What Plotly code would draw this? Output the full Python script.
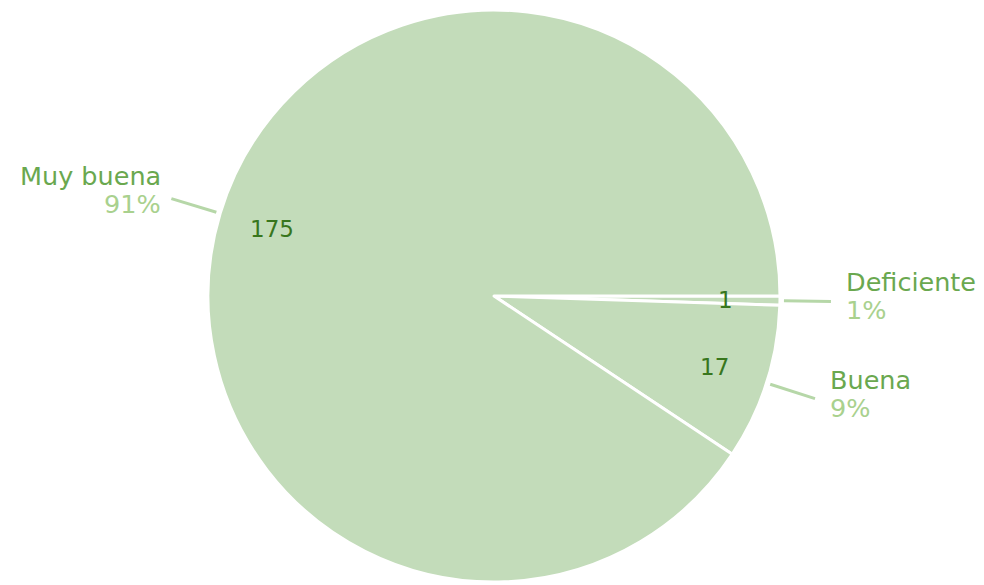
import math
import plotly.graph_objects as go

# ---- data ----
labels = ["Deficiente", "Buena", "Muy buena"]
values = [1, 17, 175]

# ---- styling ----
OFF = 8                      # default page body margin
W, H = 984 - OFF, 585 - OFF
CX, CY, R = 494 - OFF, 296 - OFF, 286
M_T = CY - R
M_B = H - (CY + R)
FILL = "#c3dcba"
LABEL_C = "#6aa84f"
PCT_C = "#a9d18e"
VAL_C = "#38761d"
LINE_C = "#b6d7a8"
FONT = "DejaVu Sans"

total = sum(values)
plot_h = H - M_T - M_B


def to_paper(px, py):
    return px / W, (H - M_B - py) / plot_h


def polar(angle_deg, rad):
    a = math.radians(angle_deg)
    return CX + rad * math.cos(a), CY + rad * math.sin(a)


fig = go.Figure(go.Pie(
    labels=labels,
    values=values,
    sort=False,
    direction="clockwise",
    rotation=90,
    textinfo="none",
    hoverinfo="label+value+percent",
    marker=dict(colors=[FILL] * len(values), line=dict(color="white", width=3)),
    domain=dict(x=[(CX - R) / W, (CX + R) / W], y=[0, 1]),
    showlegend=False,
))

annotations = []
shapes = []
cum = 0.0
for lab, v in zip(labels, values):
    start = cum / total * 360
    cum += v
    end = cum / total * 360
    mid = (start + end) / 2  # clockwise from 3 o'clock, screen coords (y down)

    # value inside slice
    vx, vy = polar(mid, 0.81 * R)
    px, py = to_paper(vx, vy)
    annotations.append(dict(x=px, y=py, xref="paper", yref="paper", text=str(v),
                            xanchor="center", yanchor="middle",
                            showarrow=False, font=dict(family=FONT, size=23, color=VAL_C)))

    # leader line
    sx, sy = polar(mid, R + 4)
    ex, ey = polar(mid, R + 51)
    x0, y0 = to_paper(sx, sy)
    x1, y1 = to_paper(ex, ey)
    shapes.append(dict(type="line", xref="paper", yref="paper", x0=x0, y0=y0, x1=x1, y1=y1,
                       line=dict(color=LINE_C, width=3)))

    # outside label (name above, percentage below)
    right = math.cos(math.radians(mid)) >= 0
    tx = ex + (13 if right else -8)
    base = ey + (4 if right else 0)
    pct = round(v / total * 100)
    for txt, dy, col in ((lab, -23, LABEL_C), (f"{pct}%", 5, PCT_C)):
        lx, ly = to_paper(tx, base + dy)
        annotations.append(dict(
            x=lx, y=ly, xref="paper", yref="paper",
            xanchor="left" if right else "right", yanchor="middle",
            text=txt, showarrow=False,
            font=dict(family=FONT, size=25.5, color=col)))

fig.update_layout(
    width=W, height=H,
    margin=dict(l=0, r=0, t=M_T, b=M_B, autoexpand=False),
    paper_bgcolor="white", plot_bgcolor="white",
    annotations=annotations, shapes=shapes,
)

fig.write_html("out.html")
